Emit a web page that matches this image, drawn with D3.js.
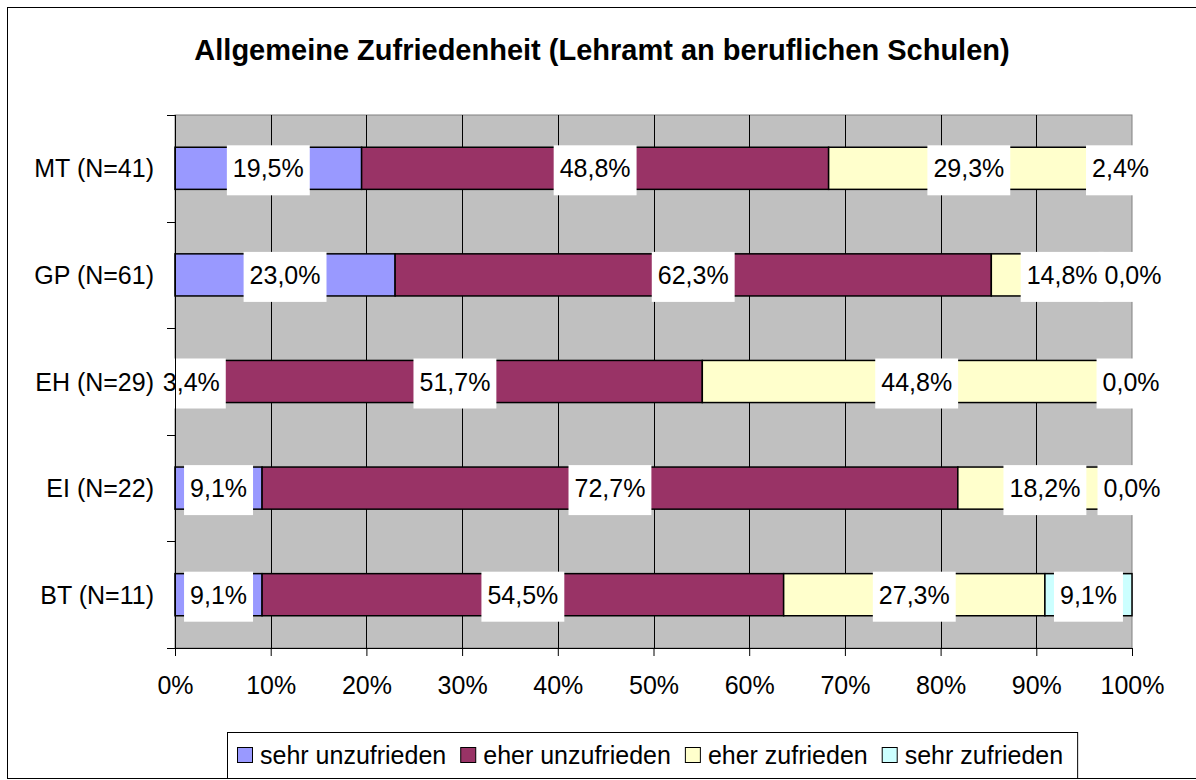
<!DOCTYPE html>
<html>
<head>
<meta charset="utf-8">
<script src="https://cdn.jsdelivr.net/npm/d3@7"></script>
<style>
  body { margin: 0; background: #fff; overflow: hidden; }
  text { font-family: "Liberation Sans", Arial, sans-serif; fill: #000; }
</style>
</head>
<body>
<svg id="chart_svg" width="1196" height="780"></svg>
<script>
// categories (top -> bottom)
var categories = ["MT (N=41)", "GP (N=61)", "EH (N=29)", "EI (N=22)", "BT (N=11)"]
var series_names = ["sehr unzufrieden", "eher unzufrieden", "eher zufrieden", "sehr zufrieden"]
// percent values per category
var sehr_unzufrieden = [19.5, 23.0, 3.4, 9.1, 9.1]
var eher_unzufrieden = [48.8, 62.3, 51.7, 72.7, 54.5]
var eher_zufrieden   = [29.3, 14.8, 44.8, 18.2, 27.3]
var sehr_zufrieden   = [2.4, 0.0, 0.0, 0.0, 9.1]
var tick_values = [0, 10, 20, 30, 40, 50, 60, 70, 80, 90, 100]
var title_text = "Allgemeine Zufriedenheit (Lehramt an beruflichen Schulen)"

var series_values = [sehr_unzufrieden, eher_unzufrieden, eher_zufrieden, sehr_zufrieden]
var color_scale = ["#9999FF", "#993366", "#FFFFCC", "#CCFFFF"]
var font_size = "25px"

var svg = d3.select("#chart_svg")
var plot = {left: 175, right: 1132, top: 115, bottom: 648}

// outer frame (right side runs past the picture)
svg.append("rect")
  .attr("x", 7.5).attr("y", 7.5)
  .attr("width", 1200).attr("height", 771)
  .style("fill", "#fff")
  .style("stroke", "#000")
  .style("stroke-width", 1)

svg.append("text")
  .attr("x", 602).attr("y", 60)
  .attr("text-anchor", "middle")
  .style("font-size", "29px")
  .style("font-weight", "bold")
  .text(title_text)

var x_scale = d3.scaleLinear().domain([0, 100]).range([plot.left, plot.right]),
    y_scale = d3.scaleBand().domain(categories).range([plot.top, plot.bottom])
                .paddingInner(0.605).paddingOuter(0.3025)

// gray plot area
svg.append("rect")
  .attr("x", plot.left).attr("y", plot.top)
  .attr("width", plot.right - plot.left).attr("height", plot.bottom - plot.top)
  .style("fill", "#C0C0C0")
  .style("stroke", "#808080")

// vertical grid lines
svg.selectAll(".grid_line")
  .data(tick_values.slice(1, -1))
  .enter()
  .append("line")
  .attr("class", "grid_line")
  .attr("x1", d => Math.round(x_scale(d)) + 0.5)
  .attr("x2", d => Math.round(x_scale(d)) + 0.5)
  .attr("y1", plot.top).attr("y2", plot.bottom)
  .style("stroke", "#000")

// build stacked segments
var segments = []
categories.forEach((cat, ci) => {
  var acc = 0
  series_values.forEach((vals, si) => {
    segments.push({cat: cat, series: si, start: acc, value: vals[ci]})
    acc = acc + vals[ci]
  })
})

svg.selectAll(".bar_seg")
  .data(segments.filter(d => d.value > 0))
  .enter()
  .append("rect")
  .attr("class", "bar_seg")
  .attr("x", d => x_scale(d.start))
  .attr("y", d => y_scale(d.cat))
  .attr("width", d => x_scale(d.start + d.value) - x_scale(d.start))
  .attr("height", y_scale.bandwidth())
  .style("fill", d => color_scale[d.series])
  .style("stroke", "#000")
  .style("stroke-width", 1.5)

// value labels on white boxes
var fmt = d => d3.format(".1f")(d).replace(".", ",") + "%"
var label_g = svg.selectAll(".value_label")
  .data(segments)
  .enter()
  .append("g")
  .attr("class", "value_label")
  .attr("transform", d => "translate(" + x_scale(d.start + d.value / 2) + "," + (y_scale(d.cat) + y_scale.bandwidth() / 2) + ")")

label_g.each(function(d) {
  var g = d3.select(this)
  var txt = g.append("text")
    .attr("text-anchor", "middle")
    .attr("dy", "0.36em")
    .style("font-size", font_size)
    .text(fmt(d.value))
  var w = txt.node().getComputedTextLength()
  g.insert("rect", "text")
    .attr("x", -w / 2 - 6).attr("y", -23)
    .attr("width", w + 12).attr("height", 50)
    .style("fill", "#fff")
})

// y axis
svg.append("line")
  .attr("x1", plot.left + 0.5).attr("x2", plot.left + 0.5)
  .attr("y1", plot.top).attr("y2", plot.bottom)
  .style("stroke", "#000")
var step = y_scale.step()
svg.selectAll(".y_tick")
  .data(d3.range(categories.length + 1))
  .enter()
  .append("line")
  .attr("class", "y_tick")
  .attr("x1", plot.left - 8).attr("x2", plot.left)
  .attr("y1", i => Math.round(plot.top + i * step) + 0.5)
  .attr("y2", i => Math.round(plot.top + i * step) + 0.5)
  .style("stroke", "#000")
svg.selectAll(".y_label")
  .data(categories)
  .enter()
  .append("text")
  .attr("class", "y_label")
  .attr("x", plot.left - 21)
  .attr("y", d => y_scale(d) + y_scale.bandwidth() / 2)
  .attr("dy", "0.36em")
  .attr("text-anchor", "end")
  .style("font-size", font_size)
  .text(d => d)

// x axis
var x_axis = svg.append("g")
  .attr("transform", "translate(0," + plot.bottom + ")")
  .call(d3.axisBottom(x_scale).tickValues(tick_values).tickSize(8).tickSizeOuter(0).tickPadding(20)
        .tickFormat(d => d + "%"))
x_axis.select(".domain").style("stroke", "#000")
x_axis.selectAll("text")
  .style("font-size", font_size)
  .style("font-family", "\"Liberation Sans\", Arial, sans-serif")

// legend
var legend = svg.append("g").attr("transform", "translate(227,732)")
var legend_box = legend.append("rect")
  .attr("x", 0.5).attr("y", 0.5)
  .attr("height", 46)
  .style("fill", "#fff")
  .style("stroke", "#000")
var lx = 10
series_names.forEach((name, i) => {
  legend.append("rect")
    .attr("x", lx + 0.5).attr("y", 15.5)
    .attr("width", 15).attr("height", 15)
    .style("fill", color_scale[i])
    .style("stroke", "#000")
  var t = legend.append("text")
    .attr("x", lx + 23).attr("y", 23)
    .attr("dy", "0.36em")
    .style("font-size", font_size)
    .text(name)
  lx = lx + 23 + t.node().getComputedTextLength() + 14
})
legend_box.attr("width", lx)
</script>
</body>
</html>
